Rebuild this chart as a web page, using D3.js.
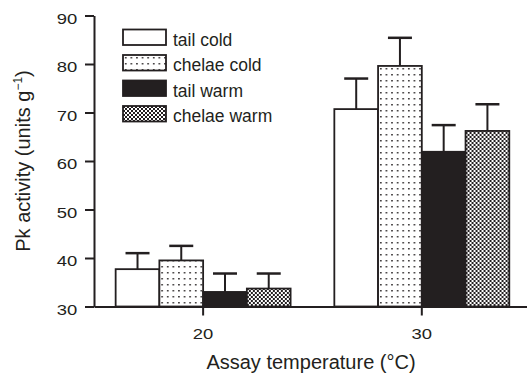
<!DOCTYPE html>
<html>
<head>
<meta charset="utf-8">
<script src="https://cdn.jsdelivr.net/npm/d3@7"></script>
<style>
  body { margin: 0; background: #fff; }
  svg { display: block; font-family: "Liberation Sans", Arial, sans-serif; }
</style>
</head>
<body>
<div id="chart"></div>
<script>
// data
var temps = [20, 30];
var seriesKeys = ["tail cold", "chelae cold", "tail warm", "chelae warm"];
var means20 = [37.7, 39.5, 33.0, 33.7];
var means30 = [70.7, 79.6, 61.9, 66.2];
var err20 = [3.3, 3.0, 3.8, 3.1];
var err30 = [6.3, 5.8, 5.5, 5.5];
var yTicks = [30, 40, 50, 60, 70, 80, 90];

var ink = "#231f20";
var width = 527, height = 377;

var rows = [];
temps.forEach(function(t, ti) {
  var m = ti === 0 ? means20 : means30;
  var e = ti === 0 ? err20 : err30;
  seriesKeys.forEach(function(k, i) {
    rows.push({temp: t, key: k, value: m[i], err: e[i]});
  });
});

var svg = d3.select("#chart").append("svg")
    .attr("width", width)
    .attr("height", height);

// fill patterns
var defs = svg.append("defs");
var dots = defs.append("pattern")
    .attr("id", "dots")
    .attr("patternUnits", "userSpaceOnUse")
    .attr("width", 5.6).attr("height", 6);
dots.append("rect").attr("width", 5.6).attr("height", 6).attr("fill", "#fff");
dots.append("rect").attr("x", 2).attr("y", 2).attr("width", 1.5).attr("height", 1.5).attr("fill", ink);

var checks = defs.append("pattern")
    .attr("id", "checks")
    .attr("patternUnits", "userSpaceOnUse")
    .attr("width", 4).attr("height", 4);
checks.append("rect").attr("width", 4).attr("height", 4).attr("fill", "#fff");
checks.append("rect").attr("width", 2).attr("height", 2).attr("fill", ink);
checks.append("rect").attr("x", 2).attr("y", 2).attr("width", 2).attr("height", 2).attr("fill", ink);

var fills = d3.scaleOrdinal()
    .domain(seriesKeys)
    .range(["#fff", "url(#dots)", ink, "url(#checks)"]);

var y = d3.scaleLinear().domain([30, 90]).range([306.5, 15.5]);

var x0 = d3.scaleBand()
    .domain(temps)
    .range([94, 527])
    .paddingInner(0.2)
    .paddingOuter(0.09)
    .align(0.55);

var x1 = d3.scaleBand()
    .domain(seriesKeys)
    .range([0, x0.bandwidth()]);

// bars
var bars = svg.append("g").selectAll("g.bar")
    .data(rows)
  .enter().append("g")
    .attr("class", "bar")
    .attr("transform", function(d) { return "translate(" + (x0(d.temp) + x1(d.key)) + ",0)"; });

bars.append("line")
    .attr("x1", x1.bandwidth() / 2).attr("x2", x1.bandwidth() / 2)
    .attr("y1", function(d) { return y(d.value); })
    .attr("y2", function(d) { return y(d.value + d.err); })
    .attr("stroke", ink).attr("stroke-width", 2);

bars.append("line")
    .attr("x1", x1.bandwidth() / 2 - 12).attr("x2", x1.bandwidth() / 2 + 12)
    .attr("y1", function(d) { return y(d.value + d.err); })
    .attr("y2", function(d) { return y(d.value + d.err); })
    .attr("stroke", ink).attr("stroke-width", 2.5);

bars.append("rect")
    .attr("x", 0)
    .attr("width", x1.bandwidth())
    .attr("y", function(d) { return y(d.value); })
    .attr("height", function(d) { return y(30) - y(d.value); })
    .attr("fill", function(d) { return fills(d.key); })
    .attr("stroke", ink)
    .attr("stroke-width", 1.8);

// axes
var yAxis = svg.append("g")
    .attr("transform", "translate(94,0)")
    .call(d3.axisLeft(y).tickValues(yTicks).tickSize(9).tickSizeOuter(0).tickPadding(7.7));

var xAxis = svg.append("g")
    .attr("transform", "translate(0," + y(30) + ")")
    .call(d3.axisBottom(x0).tickSize(9).tickSizeOuter(0).tickPadding(12.5));

[yAxis, xAxis].forEach(function(a) {
  a.attr("font-family", null).attr("font-size", null);
  a.selectAll("path, line").attr("stroke", ink).attr("stroke-width", 2);
  a.selectAll("text")
      .attr("fill", ink)
      .style("font-size", "15.5px")
      .attr("textLength", 20.5)
      .attr("lengthAdjust", "spacingAndGlyphs");
});
yAxis.selectAll("text").attr("dy", "0.5em");

// axis titles
svg.append("text")
    .attr("x", 311).attr("y", 369.3)
    .attr("text-anchor", "middle")
    .attr("fill", ink)
    .style("font-size", "20px")
    .text("Assay temperature (\u00B0C)");

var yl = svg.append("text")
    .attr("transform", "translate(29.5,161) rotate(-90)")
    .attr("text-anchor", "middle")
    .attr("fill", ink)
    .style("font-size", "20px");
yl.append("tspan").text("Pk activity (units g");
yl.append("tspan").attr("dy", -8).style("font-size", "12px").text("\u22121");
yl.append("tspan").attr("dy", 8).text(")");

// legend
var legend = svg.append("g").selectAll("g")
    .data(seriesKeys)
  .enter().append("g")
    .attr("transform", function(d, i) { return "translate(123," + (29.5 + i * 25.5) + ")"; });

legend.append("rect")
    .attr("width", 43).attr("height", 15.5)
    .attr("fill", function(d) { return fills(d); })
    .attr("stroke", ink).attr("stroke-width", 1.8);

legend.append("text")
    .attr("x", 50).attr("y", 16)
    .attr("fill", ink)
    .style("font-size", "17.5px")
    .text(function(d) { return d; });
</script>
</body>
</html>
